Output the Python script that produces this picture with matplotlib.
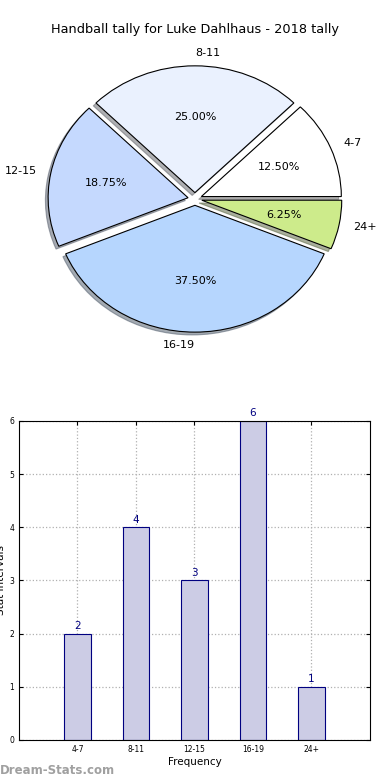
import matplotlib.pyplot as plt

# data
labels = ['4-7', '8-11', '12-15', '16-19', '24+']
counts = [2, 4, 3, 6, 1]
pie_colors = ['#FFFFFF', '#EAF1FE', '#C5D9FE', '#B6D6FE', '#CDEB8B']

fig = plt.figure(figsize=(3.9, 7.8), dpi=100)

# pie
ax1 = fig.add_axes([0.0513, 0.5417, 0.897, 0.4064])
wedges, texts, pcts = ax1.pie(counts, labels=labels, colors=pie_colors, autopct='%.2f%%',
                              explode=[0.05] * len(counts),
                              shadow={'ox': -0.014, 'oy': -0.016, 'shade': 0.6},
                              startangle=0,
                              wedgeprops={'edgecolor': 'black', 'linewidth': 0.8},
                              textprops={'fontsize': 8})
# old-style label alignment: left of centre goes right-aligned
texts[1].set_ha('left')
texts[3].set_ha('right')
ax1.set_aspect('auto')
fig.text(0.5, 1 - 30 / 780, 'Handball tally for Luke Dahlhaus - 2018 tally',
         ha='center', va='center', fontsize=9.3)

# bars
ax2 = fig.add_axes([0.0487, 0.0513, 0.9, 0.409])
x = range(len(labels))
ax2.bar(x, counts, width=0.45, color='#CCCCE5', edgecolor='#000080', linewidth=0.8, zorder=2)
for i, c in zip(x, counts):
    ax2.text(i, c + 0.05, str(c), ha='center', va='bottom', color='#000080', fontsize=7.5)
ax2.set_xlim(-1, 5)
ax2.set_ylim(0, 6)
ax2.set_xticks(list(x))
ax2.set_xticklabels(labels)
ax2.tick_params(labelsize=5.5, direction='in', right=True, top=True, length=3)
ax2.grid(True, linestyle=':', color='#B0B0B0', linewidth=0.9, zorder=0)
ax2.set_axisbelow(True)
ax2.set_xlabel('Frequency', fontsize=7.5, labelpad=2)
ax2.set_ylabel('Stat Intervals', fontsize=7.5, labelpad=2)

fig.text(0.0, 1 - 771 / 780, 'Dream-Stats.com', ha='left', va='center',
         fontsize=8.5, color='#A0A0A0', fontweight='bold')

fig.savefig('out.png', dpi=100)
